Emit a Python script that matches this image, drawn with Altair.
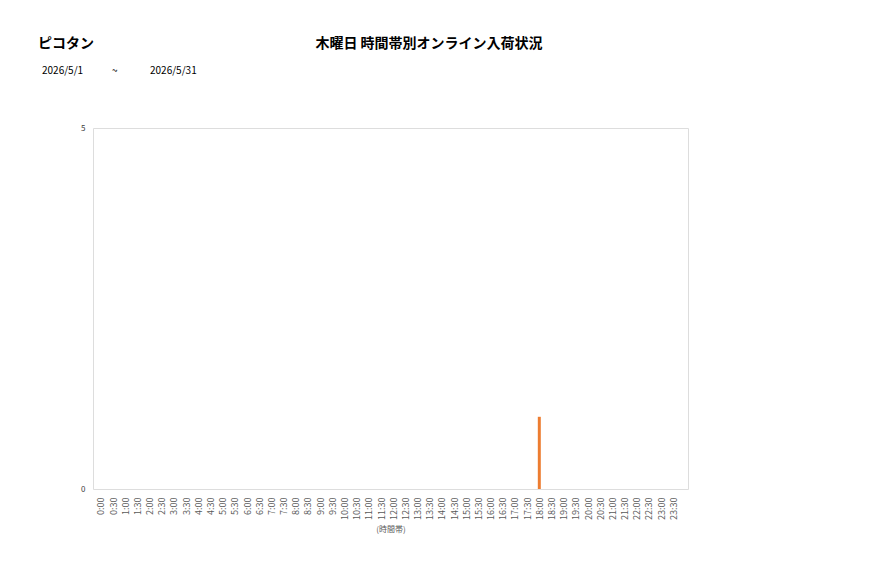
import altair as alt
import pandas as pd

times = ["0:00","0:30","1:00","1:30","2:00","2:30","3:00","3:30","4:00","4:30",
         "5:00","5:30","6:00","6:30","7:00","7:30","8:00","8:30","9:00","9:30",
         "10:00","10:30","11:00","11:30","12:00","12:30","13:00","13:30","14:00","14:30",
         "15:00","15:30","16:00","16:30","17:00","17:30","18:00","18:30","19:00","19:30",
         "20:00","20:30","21:00","21:30","22:00","22:30","23:00","23:30"]
values = [0,0,0,0,0,0,0,0,0,0,
          0,0,0,0,0,0,0,0,0,0,
          0,0,0,0,0,0,0,0,0,0,
          0,0,0,0,0,0,1,0,0,0,
          0,0,0,0,0,0,0,0]
y_ticks = [0, 5]
shop = "ピコタン"
title = "木曜日 時間帯別オンライン入荷状況"
date_from = "2026/5/1"
date_sep = "~"
date_to = "2026/5/31"
x_title = "(時間帯)"

FONT = "Noto Sans CJK JP"
df = pd.DataFrame({"idx": list(range(len(times))), "t": times, "v": values})

label_arr = "[" + ",".join("'" + t + "'" for t in times) + "]"

W, H = 595, 361

bars = alt.Chart(df).mark_bar(size=3, color="#ED7D31").encode(
    x=alt.X("idx:Q",
            scale=alt.Scale(domain=[-0.24, 47.8], nice=False, zero=False),
            axis=alt.Axis(values=list(range(len(times))), labelExpr=label_arr + "[datum.value]",
                          labelAngle=270, labelAlign="right", labelBaseline="middle",
                          labelPadding=8, ticks=False, domain=False, grid=False,
                          labelFont=FONT, labelFontSize=9, labelColor="#595959",
                          labelOverlap=False, labelBound=False, labelFlush=False,
                          title=x_title, titleFont=FONT, titleFontSize=8,
                          titleColor="#595959", titleFontWeight="normal", titlePadding=6)),
    y=alt.Y("v:Q",
            scale=alt.Scale(domain=[0, 5], nice=False),
            axis=alt.Axis(values=y_ticks, ticks=False, domain=False, grid=False,
                          labelPadding=8, labelFont=FONT, labelFontSize=8,
                          labelColor="#404040", title=None)),
)

def txt(s, x, y, size, weight="normal", align="left"):
    return alt.Chart(pd.DataFrame({"s": [s]})).mark_text(
        font=FONT, fontSize=size, fontWeight=weight, align=align,
        baseline="middle", color="#000000").encode(
        text="s:N", x=alt.value(x), y=alt.value(y))

header = (
    txt(shop, 38 - 93, 44 - 128, 14, "bold")
    + txt(title, 429 - 93, 44 - 128, 14, "bold", "center")
    + txt(date_from, 42 - 93, 71 - 128, 10)
    + txt(date_sep, 112 - 93, 71 - 128, 10)
    + txt(date_to, 150 - 93, 71 - 128, 10)
)

chart = alt.layer(bars, header).properties(
    width=W, height=H,
    autosize=alt.AutoSizeParams(type="none"),
    padding={"left": 85, "top": 120, "right": 180, "bottom": 80},
).configure_view(stroke="#d9d9d9", strokeWidth=1).configure(background="white")

chart.save("out.html", embed_options={"renderer": "svg", "actions": False})
